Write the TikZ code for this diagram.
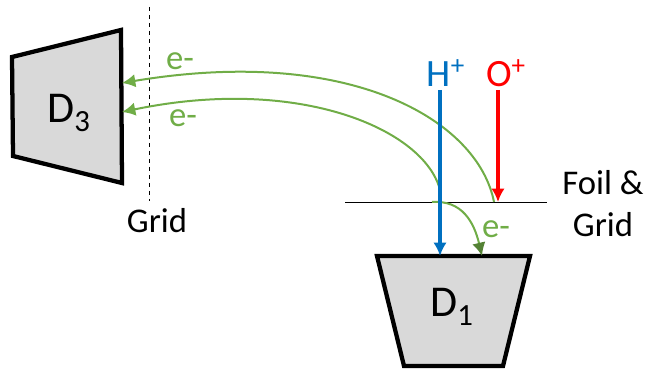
\documentclass[tikz,border=0pt]{standalone}
\usepackage{fontspec}
\setmainfont{Carlito}
\usetikzlibrary{arrows.meta}
\definecolor{egreen}{RGB}{112,173,71}
\definecolor{edark}{RGB}{84,130,53}
\definecolor{hblue}{RGB}{0,112,192}
\definecolor{dgray}{RGB}{217,217,217}

\begin{document}
\begin{tikzpicture}[x=0.75pt, y=-0.75pt]
        \useasboundingbox (0,0) rectangle (646,370);
        \tikzset{every node/.style={inner sep=0pt}}
        \tikzset{detector/.style={draw=black, fill=dgray, line width=3.2pt, miter limit=10}}
        \tikzset{electron/.style={-{Latex[length=10pt,width=10pt]}, egreen, line width=1.5pt}}
        \tikzset{beam/.style={line width=2.6pt}}
        \tikzset{elabel/.style={text=egreen, font=\fontsize{26}{28}\selectfont}}
        \tikzset{plain/.style={font=\fontsize{26}{31.5}\selectfont}}
        % detectors
        \draw[detector] (12,57) -- (121,30) -- (122,183) -- (13,156) -- cycle;
        \draw[detector] (377,256) -- (530,256) -- (503,366) -- (404,366) -- cycle;
        \node[font=\fontsize{33}{36}\selectfont] (dthree) at (69,113) {D\textsubscript{3}};
        \node[font=\fontsize{33}{36}\selectfont] (done) at (452,307) {D\textsubscript{1}};
        % grids
        \coordinate (gridtop) at (149,7);
        \coordinate (gridbot) at (149,201);
        \coordinate (foilleft) at (345,202);
        \coordinate (foilright) at (547,202);
        \draw[dashed, thin] (gridtop) -- (gridbot);
        \draw[thin] (foilleft) -- (foilright);
        \node[plain] (gridlabel) at (157,221) {Grid};
        \node[plain, align=center] (foillabel) at (603,204) {Foil \&\\Grid};
        % electrons
        \coordinate (upperstart) at (494,202);
        \coordinate (lowerstart) at (440,190);
        \coordinate (upperend) at (122,83);
        \coordinate (lowerend) at (122,112);
        \coordinate (foilstart) at (432,202);
        \coordinate (foilend) at (482,256);
        \draw[electron] (upperstart) .. controls (478,120) and (350,45) .. (upperend);
        \draw[electron] (lowerstart) .. controls (425,130) and (300,75) .. (lowerend);
        \draw[-{Latex[length=10pt,width=10pt,color=edark]}, egreen, line width=1.5pt] (foilstart) .. controls (462,200) and (474,222) .. (foilend);
        \node[elabel] (eupper) at (180,61) {e-};
        \node[elabel] (elower) at (183,118) {e-};
        \node[elabel] (efoil) at (496,229) {e-};
        % ions
        \node[text=hblue, font=\fontsize{29}{32}\selectfont] (hion) at (446,73) {H\textsuperscript{+}};
        \node[text=red, font=\fontsize{29}{32}\selectfont] (oion) at (506,73) {O\textsuperscript{+}};
        \coordinate (hstart) at (440,90);
        \coordinate (hend) at (440,256);
        \coordinate (ostart) at (498,90);
        \coordinate (oend) at (498,202);
        \draw[beam, hblue, -{Latex[length=10pt,width=10pt]}] (hstart) -- (hend);
        \draw[beam, red, -{Latex[length=10pt,width=10pt]}] (ostart) -- (oend);
\end{tikzpicture}
\end{document}
